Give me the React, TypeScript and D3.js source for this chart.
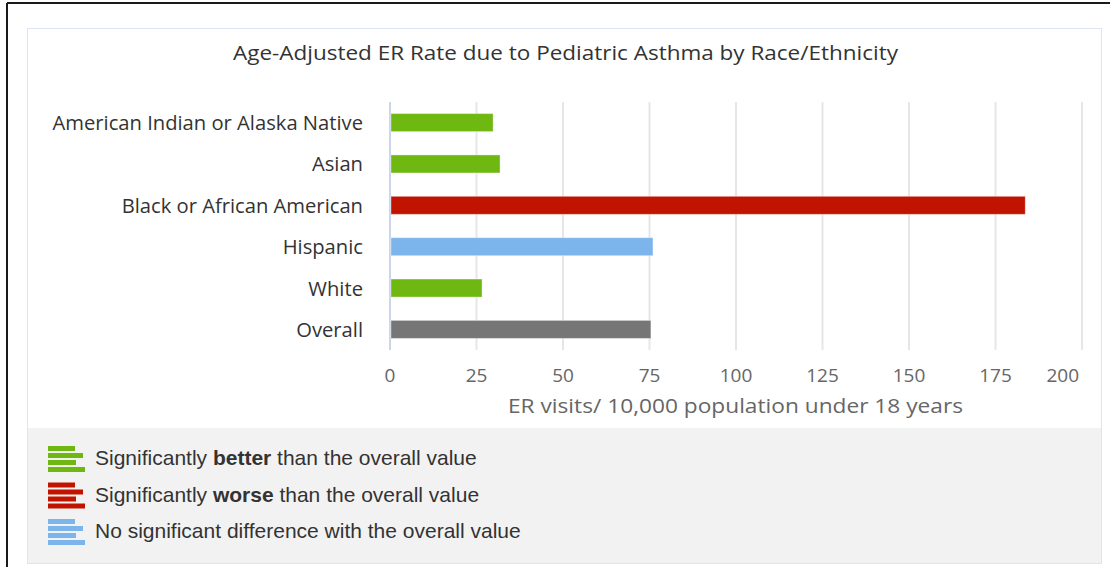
import React from "react";
import * as d3 from "d3";

const categories = [
  "American Indian or Alaska Native",
  "Asian",
  "Black or African American",
  "Hispanic",
  "White",
  "Overall",
];
const values = [29.8, 31.8, 183.6, 76, 26.6, 75.4];
const status = ["better", "better", "worse", "nodiff", "better", "overall"];
const xTicks = [0, 25, 50, 75, 100, 125, 150, 175, 200];

const colors: Record<string, string> = {
  better: "#6fb812",
  worse: "#c01400",
  nodiff: "#7cb5ec",
  overall: "#767676",
};

const legendItems = [
  { key: "better", pre: "Significantly ", bold: "better", post: " than the overall value" },
  { key: "worse", pre: "Significantly ", bold: "worse", post: " than the overall value" },
  { key: "nodiff", pre: "No significant difference with the overall value", bold: "", post: "" },
];

const W = 1110;
const H = 567;
const FONT = "'Open Sans', 'Noto Sans', sans-serif";

export default function App() {
  const plotLeft = 390;
  const plotRight = 1082;
  const plotTop = 102;
  const plotBottom = 350;
  const x = d3.scaleLinear().domain([0, 200]).range([plotLeft, plotRight]);
  const y = d3.scaleBand<string>().domain(categories).range([plotTop, plotBottom]).paddingInner(0.565).paddingOuter(0.28);
  const bh = 18;

  return (
    <div style={{ position: "fixed", left: 0, top: 0, width: W, height: H, background: "#fff" }}>
      <svg width={W} height={H} style={{ display: "block" }}>
        {/* outer frame */}
        <line x1={7} y1={3} x2={W} y2={3} stroke="#1a1a1a" strokeWidth={2} />
        <line x1={7} y1={3} x2={7} y2={H} stroke="#1a1a1a" strokeWidth={2} />
        {/* panel */}
        <rect x={27.5} y={28.5} width={1074} height={535} fill="#fff" stroke="#dfe3f5" strokeWidth={1} />
        <rect x={28} y={428} width={1073} height={135} fill="#f2f2f2" />
        {/* title */}
        <text x={565.5} y={60} textAnchor="middle" fontFamily={FONT} fontSize={20} fill="#333" textLength={665} lengthAdjust="spacingAndGlyphs">
          Age-Adjusted ER Rate due to Pediatric Asthma by Race/Ethnicity
        </text>
        {/* gridlines */}
        {xTicks.map((t) => (
          <line key={t} x1={x(t)} x2={x(t)} y1={plotTop} y2={plotBottom} stroke="#e6e6e6" strokeWidth={2} />
        ))}
        {/* axis line */}
        <line x1={plotLeft} x2={plotLeft} y1={plotTop} y2={plotBottom} stroke="#ccd6eb" strokeWidth={2} />
        {/* bars */}
        {categories.map((c, i) => {
          const cy = (y(c) as number) + y.bandwidth() / 2;
          return (
            <rect
              key={c}
              x={x(0) + 1}
              y={cy - bh / 2}
              width={x(values[i]) - x(0) - 1}
              height={bh}
              fill={colors[status[i]]}
              stroke="#ffffff"
              strokeOpacity={0.35}
              strokeWidth={1}
            />
          );
        })}
        {/* category labels */}
        {categories.map((c) => {
          const cy = (y(c) as number) + y.bandwidth() / 2;
          return (
            <text key={c} x={363} y={cy + 7.5} textAnchor="end" fontFamily={FONT} fontSize={20.2} fill="#333">
              {c}
            </text>
          );
        })}
        {/* tick labels */}
        {xTicks.map((t, i) => (
          <text
            key={t}
            x={i === xTicks.length - 1 ? x(t) - 3 : x(t)}
            y={382}
            textAnchor={i === xTicks.length - 1 ? "end" : "middle"}
            fontFamily={FONT}
            fontSize={19}
            fill="#666"
          >
            {t}
          </text>
        ))}
        {/* axis title */}
        <text x={735.5} y={413} textAnchor="middle" fontFamily={FONT} fontSize={20.5} fill="#666" textLength={455} lengthAdjust="spacingAndGlyphs">
          ER visits/ 10,000 population under 18 years
        </text>
        {/* legend */}
        {legendItems.map((it, i) => {
          const top = 446 + i * 36.5;
          const lens = [27, 35, 28, 37];
          return (
            <g key={it.key}>
              {lens.map((l, j) => (
                <rect key={j} x={48} y={top + j * 7} width={l} height={5} fill={colors[it.key]} />
              ))}
              <text x={95} y={top + 19} fontFamily="'Liberation Sans', Arial, sans-serif" fontSize={21} fill="#333">
                {it.pre}
                {it.bold && <tspan fontWeight="bold">{it.bold}</tspan>}
                {it.post}
              </text>
            </g>
          );
        })}
      </svg>
    </div>
  );
}
